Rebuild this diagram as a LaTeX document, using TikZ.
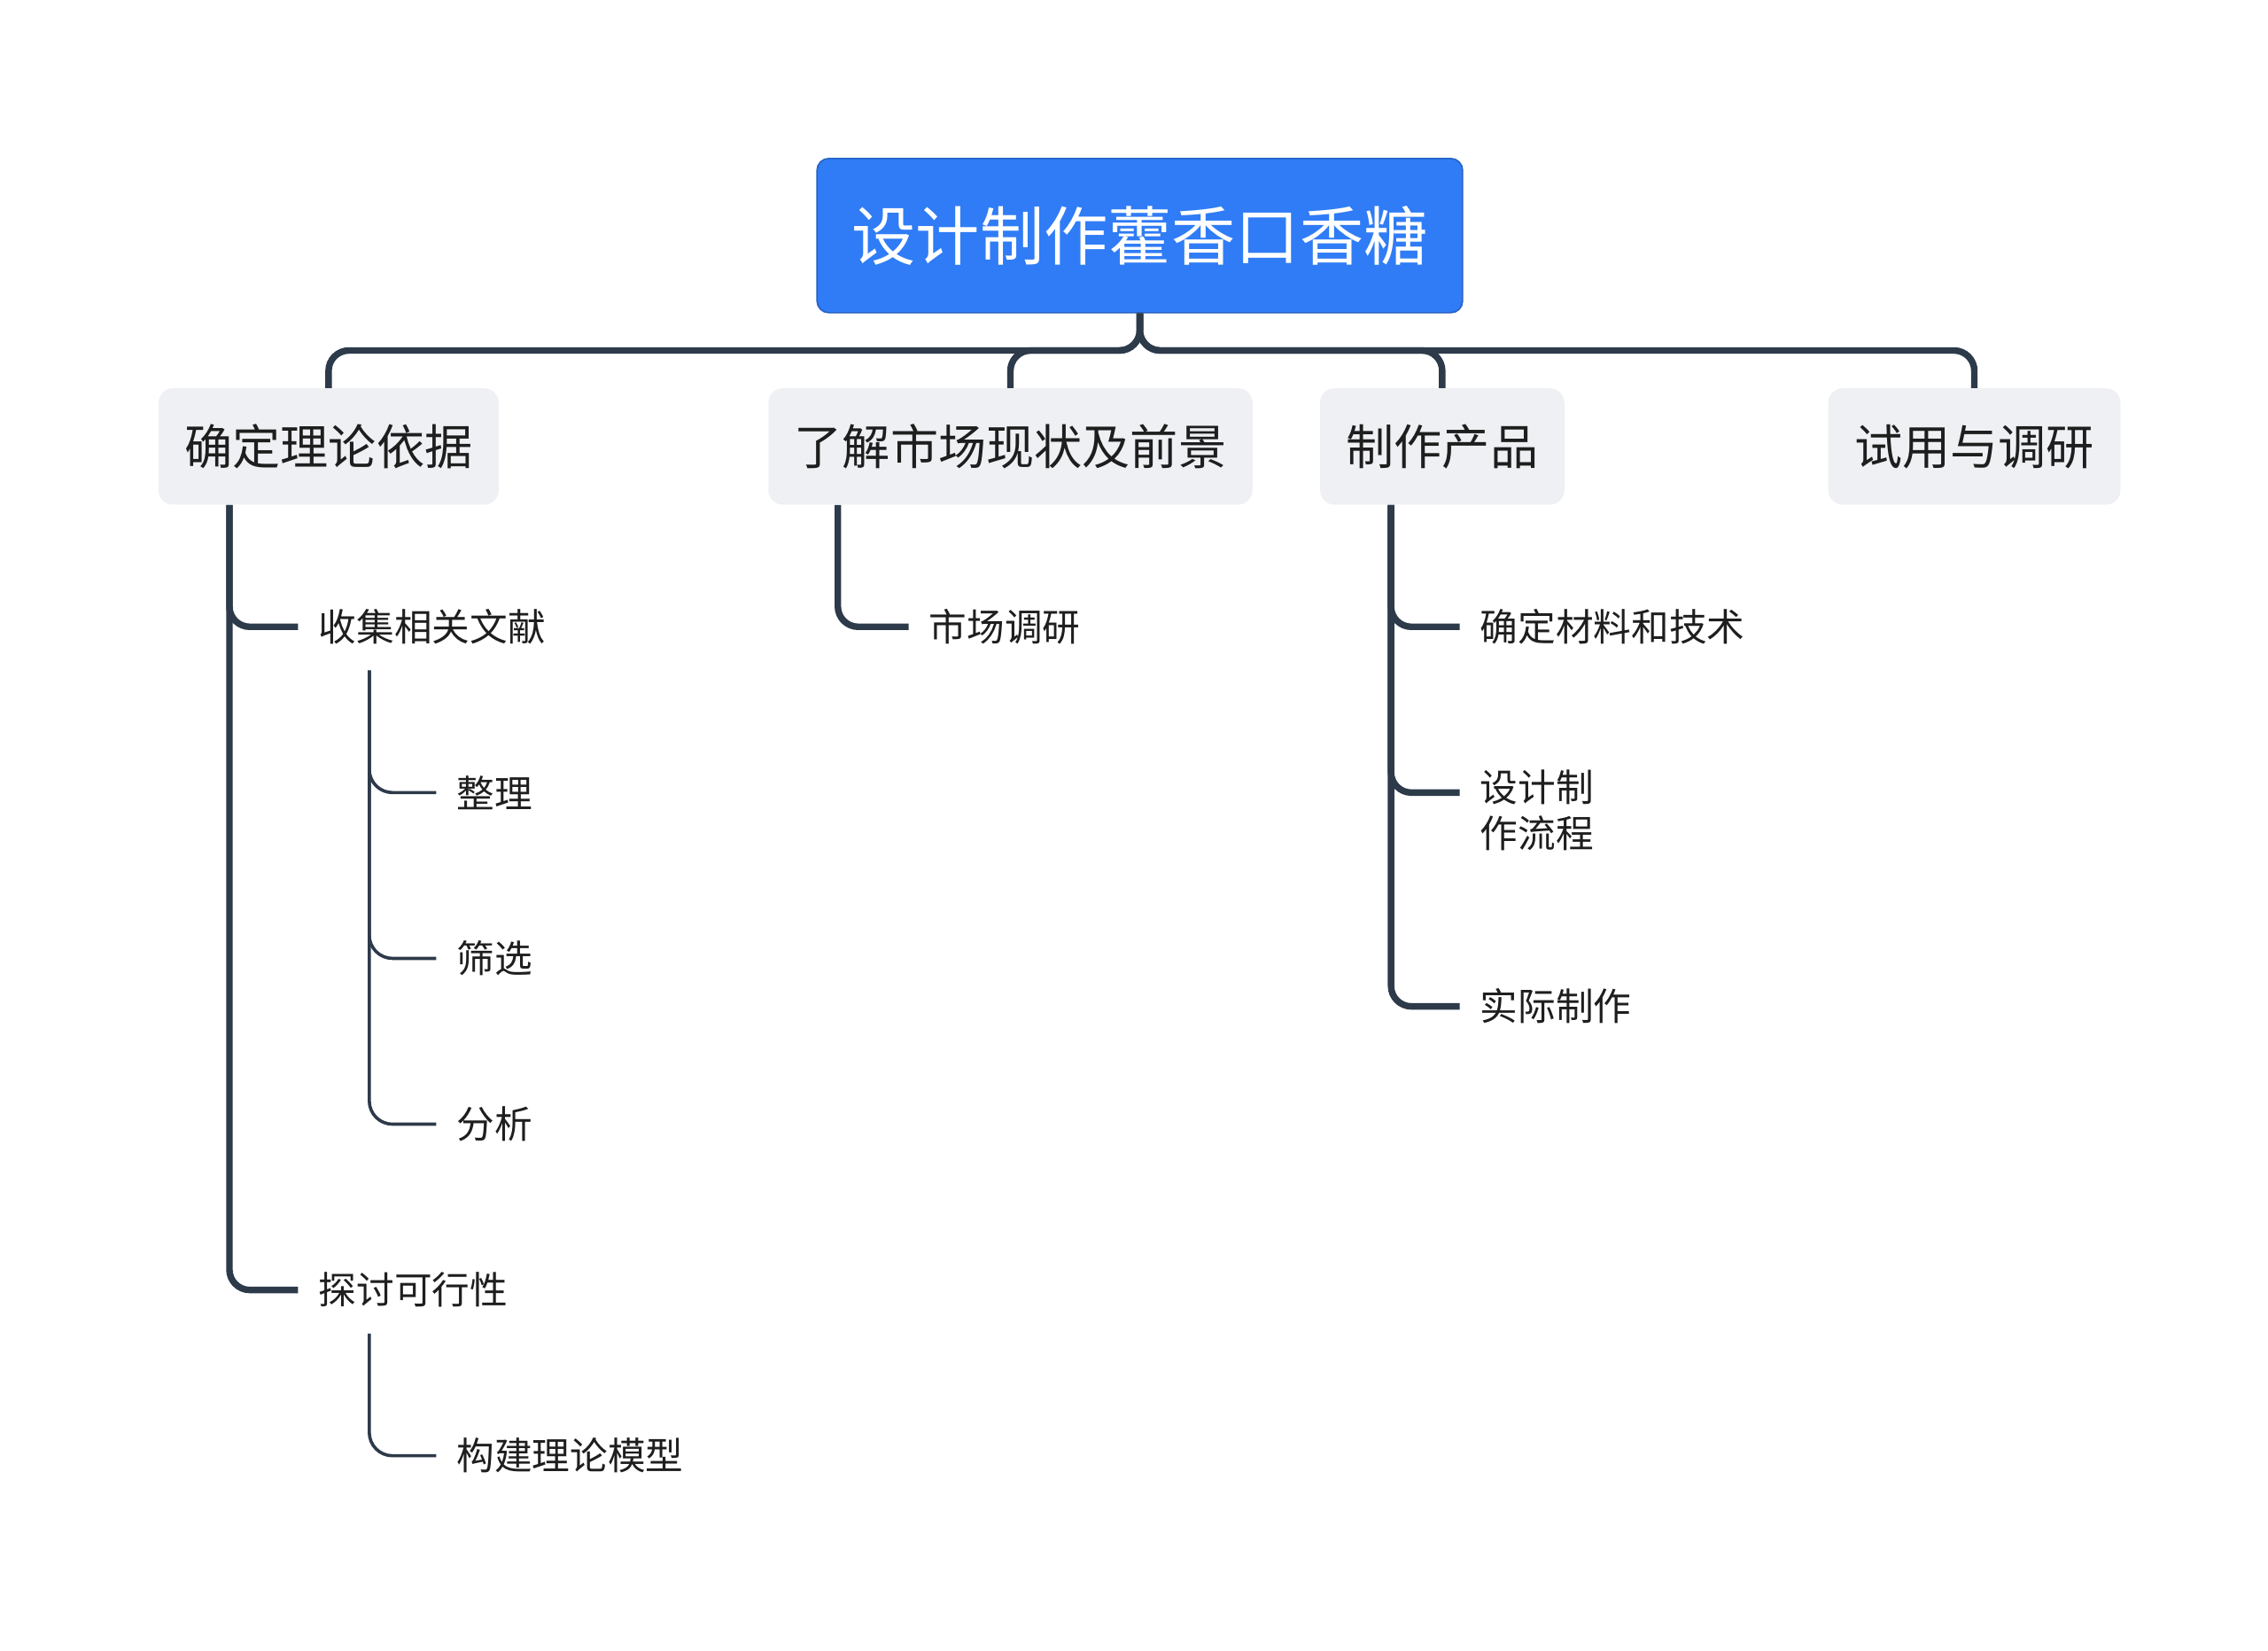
\documentclass[tikz,border=0pt]{standalone}
\usepackage{fontspec}
\setmainfont{Noto Sans CJK SC}
\usetikzlibrary{calc}
\definecolor{rootblue}{HTML}{2F7CF6}
\definecolor{boxgray}{HTML}{EEF0F3}
\definecolor{lin}{HTML}{2D3A4A}
\definecolor{txt}{HTML}{1E1E1E}
\tikzset{
  rootbox/.style={fill=rootblue,draw=rootblue!80!black,line width=1pt,rounded corners=8,text=white,font=\fontsize{44}{50}\selectfont,minimum width=444,minimum height=106,inner sep=0},
  catbox/.style={fill=boxgray,rounded corners=10,text=txt,font=\fontsize{33}{38}\selectfont,minimum height=80,inner xsep=18},
  leaf/.style={anchor=west,inner sep=0,text=txt,font=\fontsize{26}{32}\selectfont,align=left},
  main/.style={draw=lin,line width=4.5,rounded corners=14},
  sub/.style={draw=lin,line width=2.2,rounded corners=16}
}
\begin{document}
\begin{tikzpicture}[x=1pt,y=-1pt]
\useasboundingbox[fill=white] (0,0) rectangle (1560,1135);
\node[rootbox] (root) at (784,162) {设计制作藿香口香糖};
\node[catbox,minimum width=234] (c1) at (226,307) {确定理论依据};
\node[catbox,minimum width=333] (c2) at (695,307) {了解市场现状及前景};
\node[catbox,minimum width=168] (c3) at (992,307) {制作产品};
\node[catbox,minimum width=201] (c4) at (1358,307) {试用与调研};
\coordinate (hub) at (784,241);
\foreach \c in {c1,c2,c3,c4}{
  \draw[main] (root.south) -- (hub) -| (\c.north);
}
\node[leaf] (l1) at (219,431) {收集相关文献};
\node[leaf] (l2) at (219,887) {探讨可行性};
\node[leaf] (s1) at (314,545) {整理};
\node[leaf] (s2) at (314,659) {筛选};
\node[leaf] (s3) at (314,773) {分析};
\node[leaf] (s4) at (314,1001) {构建理论模型};
\node[leaf] (m1) at (639,431) {市场调研};
\node[leaf] (p1) at (1018,431) {确定材料和技术};
\node[leaf,anchor=north west] (p2) at (1018,529) {设计制\\作流程};
\node[leaf] (p3) at (1018,692) {实际制作};
\foreach \l in {l1,l2}{
  \draw[main] ($(c1.south west)+(49,0)$) |- ([xshift=-14]\l.west);
}
\foreach \s in {s1,s2,s3}{
  \draw[sub] ($(l1.west)+(35,30)$) |- ([xshift=-14]\s.west);
}
\draw[sub] ($(l2.west)+(35,30)$) |- ([xshift=-14]s4.west);
\draw[main] ($(c2.south west)+(48,0)$) |- ([xshift=-14]m1.west);
\draw[main] ($(c3.south west)+(49,0)$) |- ([xshift=-14]p1.west);
\draw[main] ($(c3.south west)+(49,0)$) |- ($(p2.north west)+(-14,16)$);
\draw[main] ($(c3.south west)+(49,0)$) |- ([xshift=-14]p3.west);
\end{tikzpicture}
\end{document}
